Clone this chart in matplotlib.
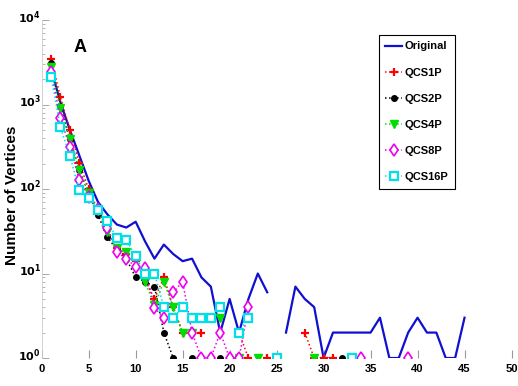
import numpy as np
import matplotlib
matplotlib.use('Agg')
import matplotlib.pyplot as plt
from matplotlib import font_manager
from matplotlib.transforms import ScaledTranslation

# --- data (0 = no vertices, not drawn on log axis) ---
x_orig = np.arange(1, 46)
original = [2600, 1050, 500, 250, 125, 70, 50, 38, 35, 41, 24, 15, 22, 17, 14,
            15, 9, 7, 2, 5, 2, 5, 10, 6, 0, 2, 7, 5, 4, 1, 2, 2, 2, 2, 2,
            3, 1, 1, 2, 3, 2, 2, 1, 1, 3]

x_qcs = np.arange(1, 40)
qcs1p = [3500, 1220, 494, 204, 100, 55, 33, 20, 17, 14, 8.5, 5, 9, 4, 2,
         2, 2, 0, 4, 0, 2, 1, 0, 1, 0, 0, 0, 2, 1, 1, 1, 0, 0, 0, 0,
         0, 0, 0, 0]
qcs2p = [3070, 950, 390, 168, 90, 49, 27, 19, 15, 9, 8, 7, 2, 1, 0,
         1, 0, 0, 1, 0, 0, 0, 0, 0, 0, 0, 0, 0, 0, 0, 0, 1, 0, 0, 0,
         0, 0, 0, 0]
qcs4p = [2760, 900, 390, 170, 90, 55, 31, 20, 18, 15, 8, 4.2, 8, 4, 2,
         2, 0, 0, 3, 0, 1, 0, 1, 0, 0, 0, 0, 0, 1, 0, 0, 0, 0, 0, 0,
         0, 0, 0, 0]
qcs8p = [2410, 685, 316, 128, 80, 58, 35, 18, 15, 12, 11.6, 3.9, 3, 6, 8,
         2, 1, 1, 2, 1, 1, 4, 0, 0, 0, 0, 0, 0, 0, 0, 0, 0, 0, 1, 0,
         0, 0, 0, 1]
qcs16p = [2140, 535, 245, 97, 78, 57, 42, 26, 25, 16, 10, 10, 4, 3, 4,
          3, 3, 3, 4, 0, 2, 3, 0, 0, 1, 0, 0, 0, 0, 0, 0, 0, 1, 0, 0,
          0, 0, 0, 0]

x_ticks = [0, 5, 10, 15, 20, 25, 30, 35, 40, 45, 50]
y_decades = [0, 1, 2, 3, 4]


def masked(v):
    v = np.array(v, dtype=float)
    return np.where(v > 0, v, np.nan)


sans = ['Liberation Sans', 'DejaVu Sans']

fig = plt.figure(figsize=(5.18, 3.86), dpi=100)
ax = fig.add_axes([0.0805, 0.0725, 0.907, 0.8756])

ax.plot(x_orig, masked(original), '-', color='#1010d0', lw=1.6, label='Original')
ax.plot(x_qcs, masked(qcs1p), ':', color='red', lw=1.1, marker='+', ms=6, mew=1.6,
        label='QCS1P')
ax.plot(x_qcs, masked(qcs2p), ':', color='black', lw=1.1, marker='o', ms=4,
        label='QCS2P')
ax.plot(x_qcs, masked(qcs4p), ':', color='#00dd00', lw=1.1, marker='v', ms=5.5,
        mfc='#00dd00', label='QCS4P')
ax.plot(x_qcs, masked(qcs8p), ':', color='#ee00ee', lw=1.1, marker='d', ms=6.5,
        mfc='white', mew=1.2, label='QCS8P')
ax.plot(x_qcs, masked(qcs16p), ':', color='#00e0e8', lw=1.1, marker='s', ms=5.5,
        mfc='white', mew=1.6, label='QCS16P')

ax.set_yscale('log')
ax.set_xlim(0, 50)
ax.set_ylim(1, 1e4)

for s in ax.spines.values():
    s.set_visible(False)
ax.spines['left'].set_visible(True)
ax.spines['left'].set_color('#cccccc')
ax.spines['left'].set_linewidth(0.6)

ax.set_xticks(x_ticks)
ax.set_xticklabels([str(t) for t in x_ticks], fontweight='bold', fontsize=8,
                   family=sans)
ax.set_yticks([10.0 ** d for d in y_decades])
ax.set_yticklabels([r'$\mathbf{10^{%d}}$' % d for d in y_decades], fontsize=8)
ax.tick_params(axis='both', which='both', direction='in', color='#999999')
ax.tick_params(axis='x', length=6, width=0.8, pad=4)
ax.tick_params(axis='y', which='major', length=5, width=0.6, pad=0.5)
ax.tick_params(axis='y', which='minor', length=2.5, width=0.5)

# y labels sit a little above their ticks, as in the original
shift_up = ScaledTranslation(0, 3 / 72, fig.dpi_scale_trans)
for lab in ax.get_yticklabels():
    lab.set_transform(lab.get_transform() + shift_up)

ax.set_ylabel('Number of Vertices', fontsize=11, fontweight='bold', family=sans)
ax.yaxis.set_label_coords(-0.048, 0.48)

fig.text(0.155, 0.876, 'A', fontsize=13, fontweight='bold', family=sans,
         ha='center', va='center')

leg = ax.legend(loc='upper right', bbox_to_anchor=(0.879, 0.91),
                bbox_transform=fig.transFigure, fancybox=False,
                edgecolor='black', framealpha=1, handlelength=1.5,
                handletextpad=0.25, labelspacing=1.45, borderpad=0.6,
                borderaxespad=0,
                prop=font_manager.FontProperties(family=sans, weight='bold',
                                                 size=8))
leg.get_frame().set_linewidth(0.8)

fig.savefig('out.png', dpi=100)
